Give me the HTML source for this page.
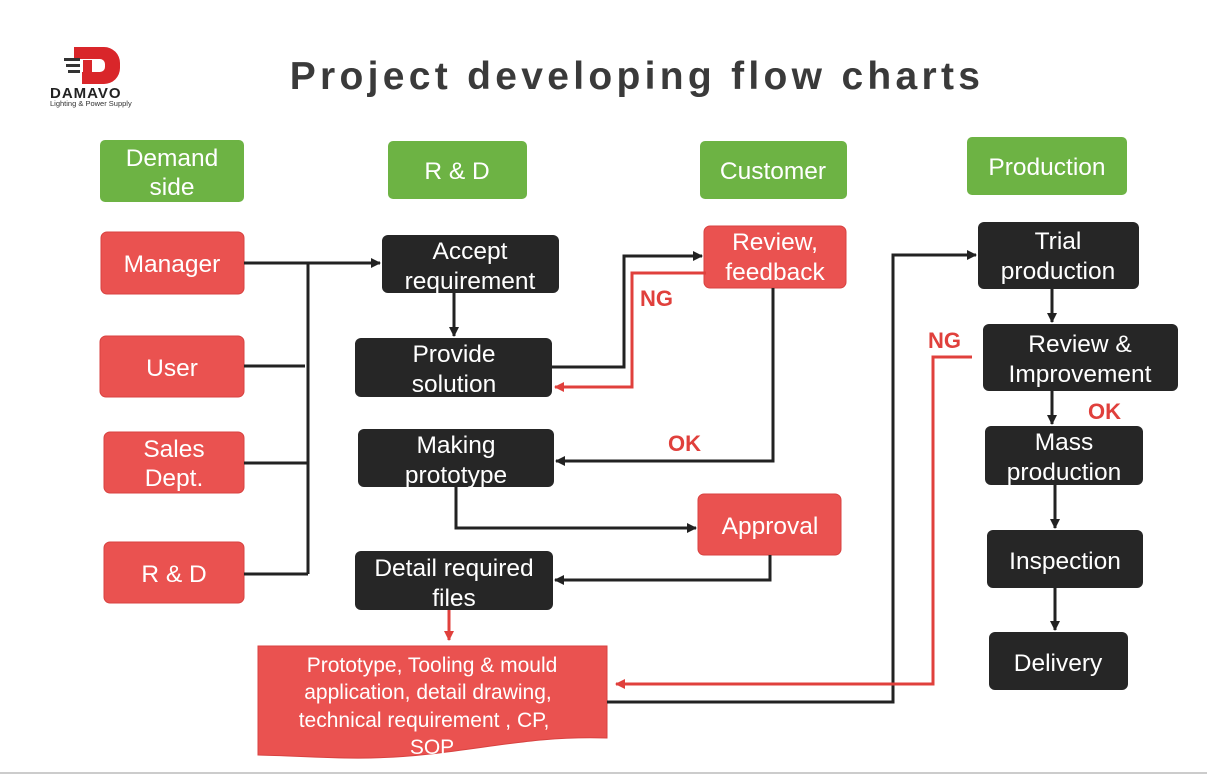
<!DOCTYPE html>
<html><head><meta charset="utf-8"><style>
body{margin:0;background:#fff;}
svg{display:block;font-family:"Liberation Sans",Arial,sans-serif;}
</style></head><body>
<svg width="1207" height="777" viewBox="0 0 1207 777">
<defs>
<marker id="ab" markerWidth="10" markerHeight="10" refX="9" refY="5" orient="auto" markerUnits="userSpaceOnUse"><path d="M0,0 L10,5 L0,10 z" fill="#222"/></marker>
<marker id="ar" markerWidth="10" markerHeight="10" refX="9" refY="5" orient="auto" markerUnits="userSpaceOnUse"><path d="M0,0 L10,5 L0,10 z" fill="#e0403c"/></marker>
</defs>
<!-- logo -->
<path d="M74,47 h30 a16,16 0 0 1 16,16 v5 a16,16 0 0 1 -16,16 h-22 v-12 h18 a5,5 0 0 0 5,-5 v-3 a5,5 0 0 0 -5,-5 h-26 z" fill="#d9262a"/>
<rect x="83" y="60" width="9" height="24" fill="#d9262a"/>
<rect x="64" y="58" width="16" height="3" fill="#333"/><rect x="66" y="64" width="14" height="3" fill="#333"/><rect x="68" y="70" width="12" height="3" fill="#333"/>
<text x="50" y="98" font-size="15" font-weight="bold" fill="#222" letter-spacing="1">DAMAVO</text>
<text x="50" y="106" font-size="7.5" fill="#333">Lighting &amp; Power Supply</text>
<text x="637" y="89" font-size="39" font-weight="bold" fill="#3a3a3a" text-anchor="middle" letter-spacing="4.3">Project developing flow charts</text>
<line x1="0" y1="773" x2="1207" y2="773" stroke="#ccc" stroke-width="2"/>
<g font-size="24.5" text-anchor="middle" fill="#fff">
<!-- green -->
<g fill="#6db344">
<rect x="100" y="140" width="144" height="62" rx="5"/><rect x="388" y="141" width="139" height="58" rx="5"/>
<rect x="700" y="141" width="147" height="58" rx="5"/><rect x="967" y="137" width="160" height="58" rx="5"/>
</g>
<text x="172" y="166">Demand</text><text x="172" y="195">side</text>
<text x="457" y="179">R &amp; D</text><text x="773" y="179">Customer</text><text x="1047" y="175">Production</text>
<!-- red -->
<g fill="#ea5250" stroke="#d84240">
<rect x="101" y="232" width="143" height="62" rx="6"/><rect x="100" y="336" width="144" height="61" rx="6"/>
<rect x="104" y="432" width="140" height="61" rx="6"/><rect x="104" y="542" width="140" height="61" rx="6"/>
<rect x="704" y="226" width="142" height="62" rx="6"/><rect x="698" y="494" width="143" height="61" rx="6"/>
<path d="M258,646 H607 V738 C540,736 500,746 430,754 C360,762 310,756 258,755 Z"/>
</g>
<text x="172" y="272">Manager</text><text x="172" y="376">User</text>
<text x="174" y="457">Sales</text><text x="174" y="486">Dept.</text><text x="174" y="582">R &amp; D</text>
<text x="775" y="250">Review,</text><text x="775" y="280">feedback</text><text x="770" y="534">Approval</text>
<g font-size="21"><text x="432" y="672">Prototype,  Tooling &amp; mould</text><text x="428" y="699">application, detail drawing,</text><text x="424" y="727">technical requirement ,  CP,</text><text x="432" y="754">SOP</text></g>
<!-- dark -->
<g fill="#262626">
<rect x="382" y="235" width="177" height="58" rx="6"/><rect x="355" y="338" width="197" height="59" rx="6"/>
<rect x="358" y="429" width="196" height="58" rx="6"/><rect x="355" y="551" width="198" height="59" rx="6"/>
<rect x="978" y="222" width="161" height="67" rx="6"/><rect x="983" y="324" width="195" height="67" rx="6"/>
<rect x="985" y="426" width="158" height="59" rx="6"/><rect x="987" y="530" width="156" height="58" rx="6"/>
<rect x="989" y="632" width="139" height="58" rx="6"/>
</g>
<text x="470" y="259">Accept</text><text x="470" y="289">requirement</text>
<text x="454" y="362">Provide</text><text x="454" y="392">solution</text>
<text x="456" y="453">Making</text><text x="456" y="483">prototype</text>
<text x="454" y="576">Detail required</text><text x="454" y="606">files</text>
<text x="1058" y="249">Trial</text><text x="1058" y="279">production</text>
<text x="1080" y="352">Review  &amp;</text><text x="1080" y="382">Improvement</text>
<text x="1064" y="450">Mass</text><text x="1064" y="480">production</text>
<text x="1065" y="569">Inspection</text><text x="1058" y="671">Delivery</text>
</g>
<!-- connectors -->
<g fill="none" stroke="#222" stroke-width="3">
<path d="M244,263 H380" marker-end="url(#ab)"/>
<path d="M308,263 V574 M244,366 H305 M244,463 H308 M244,574 H308"/>
<path d="M454,293 V336" marker-end="url(#ab)"/>
<path d="M552,367 H624 V256 H702" marker-end="url(#ab)"/>
<path d="M773,288 V461 H556" marker-end="url(#ab)"/>
<path d="M456,487 V528 H696" marker-end="url(#ab)"/>
<path d="M770,555 V580 H555" marker-end="url(#ab)"/>
<path d="M607,702 H893 V255 H976" marker-end="url(#ab)"/>
<path d="M1052,289 V322" marker-end="url(#ab)"/>
<path d="M1052,391 V424" marker-end="url(#ab)"/>
<path d="M1055,485 V528" marker-end="url(#ab)"/>
<path d="M1055,588 V630" marker-end="url(#ab)"/>
</g>
<g fill="none" stroke="#e0403c" stroke-width="3">
<path d="M706,273 H632 V387 H555" marker-end="url(#ar)"/>
<path d="M449,610 V640" marker-end="url(#ar)"/>
<path d="M972,357 H933 V684 H616" marker-end="url(#ar)"/>
</g>
<g fill="#e0403c" font-weight="bold" font-size="22">
<text x="640" y="306">NG</text><text x="668" y="451">OK</text><text x="928" y="348">NG</text><text x="1088" y="419">OK</text>
</g>
</svg>
</body></html>
